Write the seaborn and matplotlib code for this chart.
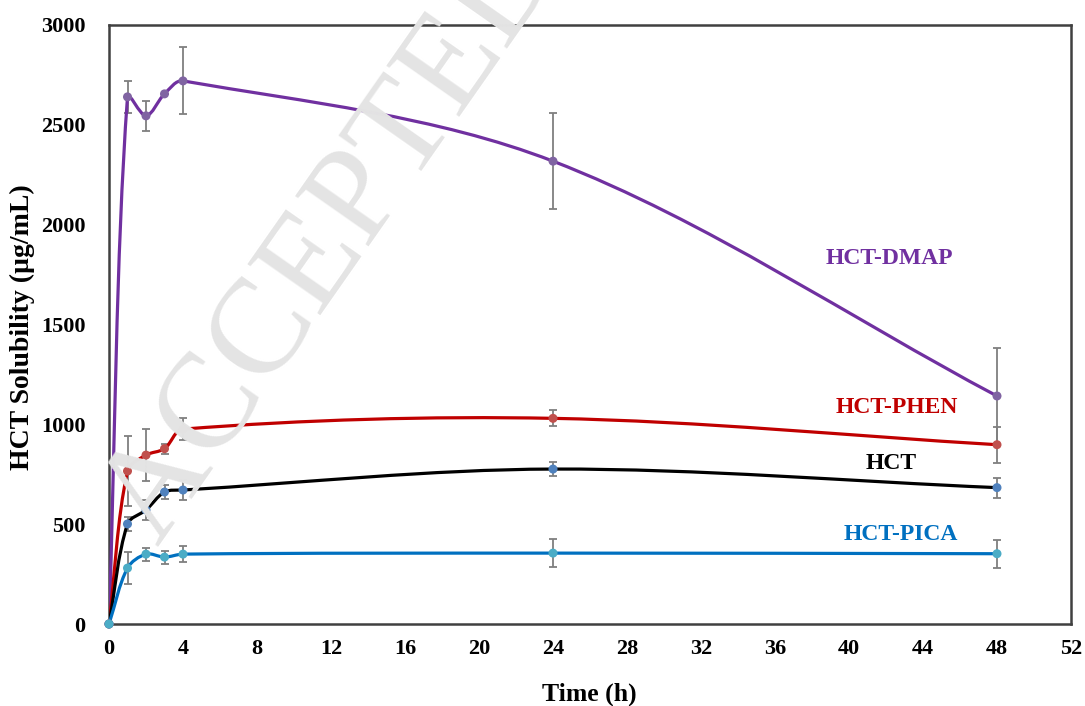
"""
plot.py
HCT solubility vs time for HCT and its co-crystals (Excel-style smoothed lines).
"""
import matplotlib
matplotlib.use("Agg")
import matplotlib.pyplot as plt
import numpy as np
import pandas as pd
import seaborn as sns
from matplotlib.path import Path
from matplotlib.patches import PathPatch

# ── data ──────────────────────────────────────────────────────
time_h = [0, 1, 2, 3, 4, 24, 48]

dmap = [0, 2640, 2545, 2655, 2720, 2318, 1142]
dmap_err = [0, 80, 75, 0, 168, 240, 240]

phen = [0, 766, 846, 878, 976, 1030, 898]
phen_err = [0, 175, 132, 25, 55, 40, 90]

hct = [0, 501, 571, 661, 671, 776, 683]
hct_err = [0, 35, 50, 35, 50, 35, 50]

pica = [0, 280, 350, 335, 350, 355, 352]
pica_err = [0, 82, 32, 32, 40, 70, 70]

series_names = ["HCT-DMAP", "HCT-PHEN", "HCT", "HCT-PICA"]
line_colors = ["#7030A0", "#C00000", "#000000", "#0070C0"]
marker_colors = ["#8064A2", "#C0504D", "#4F81BD", "#4BACC6"]

# label anchor positions (data coords)
label_x = [42.2, 42.6, 42.3, 42.8]
label_y = [1833, 1082, 806, 446]

x_ticks = list(range(0, 53, 4))
y_ticks = list(range(0, 3001, 500))

df = pd.DataFrame({
    "time": time_h * 4,
    "value": dmap + phen + hct + pica,
    "err": dmap_err + phen_err + hct_err + pica_err,
    "series": sum([[n] * len(time_h) for n in series_names], []),
})

# pixel size of one data unit, so the smoothing works in screen space like Excel
SX = 962 / 52
SY = 599 / 3000


def smooth_path(x, y, k=1 / 3):
    """Cubic Bezier path through the points (chord-length scaled tangents)."""
    P = np.column_stack([np.asarray(x, float) * SX, np.asarray(y, float) * SY])
    n = len(P)
    d = np.linalg.norm(np.diff(P, axis=0), axis=1)
    m = np.zeros_like(P)
    m[0] = (P[1] - P[0]) / d[0]
    m[-1] = (P[-1] - P[-2]) / d[-1]
    for i in range(1, n - 1):
        m[i] = (P[i + 1] - P[i - 1]) / (d[i - 1] + d[i])
    verts = [P[0]]
    codes = [Path.MOVETO]
    for i in range(n - 1):
        verts += [P[i] + m[i] * d[i] * k, P[i + 1] - m[i + 1] * d[i] * k, P[i + 1]]
        codes += [Path.CURVE4] * 3
    verts = np.array(verts) / [SX, SY]
    return Path(verts, codes)


sns.set_theme(style="white")
plt.rcParams["font.family"] = ["Liberation Serif", "DejaVu Serif"]
plt.rcParams["font.weight"] = "bold"
for key in ("text.color", "axes.labelcolor", "xtick.color", "ytick.color"):
    plt.rcParams[key] = "black"

fig = plt.figure(figsize=(10.85, 7.06), dpi=100)
ax = fig.add_axes([109 / 1085, 1 - 624 / 706, 962 / 1085, 599 / 706])

# watermark
fig.text(158 / 1085, 1 - 547 / 706, "ACCEPTED MANUSCRIPT", rotation=55,
         rotation_mode="anchor", ha="left", va="baseline", fontsize=98,
         color="#e4e4e4", fontweight="normal", zorder=0)
ax.patch.set_alpha(0)

for name, lc, mc in zip(series_names, line_colors, marker_colors):
    d = df[df["series"] == name]
    ax.errorbar(d["time"], d["value"], yerr=d["err"], fmt="none",
                ecolor="#7F7F7F", elinewidth=1.3, capsize=3.2, capthick=1.3, zorder=2)
    ax.add_patch(PathPatch(smooth_path(d["time"], d["value"]), facecolor="none",
                           edgecolor=lc, lw=2.3, zorder=3, capstyle="round"))

sns.scatterplot(data=df, x="time", y="value", hue="series", palette=marker_colors,
                hue_order=series_names, s=42, edgecolor="none", legend=False,
                ax=ax, zorder=4, clip_on=False)

for name, lc, lx, ly in zip(series_names, line_colors, label_x, label_y):
    ax.text(lx, ly, name, color=lc, fontsize=17, fontweight="bold",
            ha="center", va="center")

ax.set_xlim(0, 52)
ax.set_ylim(0, 3000)
ax.set_xticks(x_ticks)
ax.set_yticks(y_ticks)
ax.tick_params(axis="both", length=0, labelsize=16, labelcolor="black")
ax.tick_params(axis="x", pad=11)
ax.tick_params(axis="y", pad=17)
ax.set_xlabel("Time (h)", fontsize=18.5, fontweight="bold", va="center", color="black")
ax.set_ylabel("HCT Solubility (µg/mL)", fontsize=20, fontweight="bold", va="center", color="black")
ax.xaxis.set_label_coords(0.499, -0.117)
ax.yaxis.set_label_coords(-0.0904, 0.496)

for sp in ax.spines.values():
    sp.set_color("#404040")
    sp.set_linewidth(1.8)

fig.savefig("out.png", dpi=100)
